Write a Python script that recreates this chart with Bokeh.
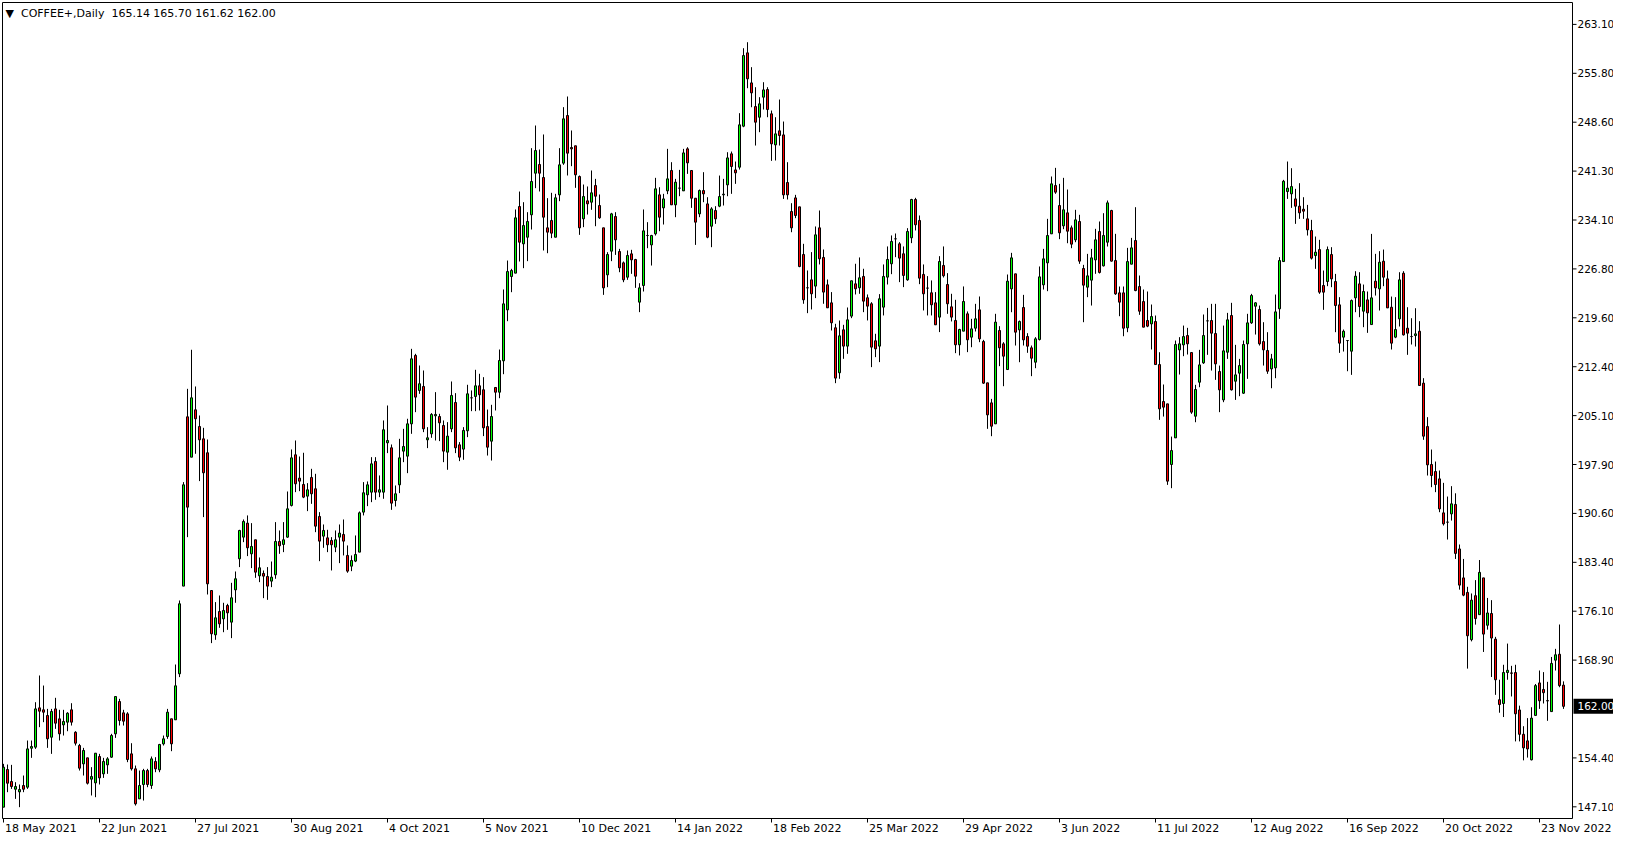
import numpy as np
from bokeh.plotting import figure
from bokeh.models import Range1d, ColumnDataSource
from bokeh.core.properties import value
from bokeh.embed import file_html
from bokeh.resources import INLINE

symbol = "COFFEE+,Daily"

opens = [
    147.05, 152.63, 150.85, 149.71, 149.32, 150.26, 150.01, 155.79, 155.94, 161.77,
    161.48, 160.64, 157.42, 161.62, 160.14, 159.25, 159.65, 161.48, 158.16, 156.19,
    153.47, 154.36, 151.20, 150.65, 154.56, 151.99, 153.32, 154.46, 157.92, 162.71,
    161.03, 160.88, 154.95, 152.73, 148.28, 150.41, 152.48, 150.26, 153.82, 152.58,
    156.43, 157.52, 160.15, 160.00, 166.82, 179.82, 204.92, 198.94, 205.96, 203.49,
    201.66, 199.59, 179.17, 172.60, 176.06, 174.97, 176.95, 174.48, 179.27, 183.87,
    187.08, 189.16, 184.61, 186.69, 181.35, 181.70, 181.25, 180.56, 181.50, 186.44,
    186.00, 187.08, 191.78, 199.29, 195.83, 194.89, 193.16, 195.93, 194.25, 190.15,
    187.23, 186.98, 186.59, 185.60, 187.08, 187.48, 184.37, 182.78, 183.53, 184.86,
    190.79, 193.36, 193.75, 198.30, 193.75, 193.75, 201.07, 200.33, 192.52, 194.84,
    199.83, 199.09, 203.88, 214.02, 208.83, 209.42, 201.51, 202.40, 205.07, 204.97,
    203.64, 199.68, 203.14, 207.05, 200.77, 200.13, 202.85, 207.74, 207.94, 209.52,
    208.93, 203.48, 201.31, 209.27, 208.57, 213.22, 220.78, 225.72, 226.22, 236.10,
    230.57, 231.55, 234.87, 241.04, 242.33, 240.40, 232.94, 234.03, 231.55, 237.83,
    242.53, 249.59, 244.85, 245.10, 240.55, 234.27, 236.94, 236.74, 239.21, 236.25,
    232.94, 225.97, 229.48, 234.62, 229.43, 227.75, 225.62, 229.08, 228.24, 221.92,
    224.39, 231.80, 230.41, 232.05, 237.83, 235.90, 238.42, 241.44, 236.35, 238.82,
    238.42, 244.65, 241.44, 237.33, 235.01, 238.47, 236.49, 233.18, 235.51, 236.15,
    237.83, 239.31, 243.91, 241.53, 241.93, 248.01, 258.88, 254.43, 250.92, 249.34,
    252.31, 253.44, 249.84, 245.24, 247.32, 246.72, 239.66, 235.36, 237.38, 236.05,
    228.99, 224.05, 225.23, 224.30, 232.94, 228.55, 224.49, 221.82, 218.12, 211.45,
    217.82, 215.40, 219.85, 224.64, 224.05, 225.73, 222.57, 221.68, 216.19, 215.40,
    221.18, 225.63, 227.61, 231.31, 230.57, 229.09, 225.23, 231.46, 237.14, 234.03,
    226.03, 224.00, 223.31, 221.82, 219.70, 227.36, 224.54, 221.23, 219.21, 215.60,
    217.62, 220.19, 216.73, 218.06, 220.78, 216.09, 209.96, 206.99, 203.88, 217.72,
    215.74, 211.93, 223.89, 226.12, 217.81, 221.13, 216.83, 215.15, 213.02, 216.38,
    224.49, 227.75, 232.05, 239.21, 236.25, 233.23, 235.16, 232.94, 231.16, 233.88,
    226.91, 224.14, 225.18, 228.19, 232.39, 227.30, 230.81, 235.51, 228.09, 223.30,
    223.30, 218.11, 227.55, 231.06, 224.24, 222.01, 219.20, 218.70, 219.05, 212.67,
    207.19, 206.84, 197.85, 201.80, 214.85, 215.59, 216.97, 214.45, 205.01, 210.05,
    212.92, 219.15, 219.20, 217.27, 211.64, 207.43, 214.50, 219.94, 210.20, 211.39,
    208.42, 215.74, 218.85, 221.32, 220.83, 216.08, 214.75, 212.03, 212.18, 220.93,
    227.94, 238.32, 237.98, 237.23, 236.15, 235.70, 234.27, 232.54, 228.83, 229.72,
    224.39, 224.98, 228.98, 224.98, 221.52, 216.73, 216.23, 214.65, 222.56, 224.63,
    220.58, 222.26, 218.60, 225.03, 223.89, 227.99, 225.37, 221.17, 216.73, 219.44,
    226.21, 218.06, 216.82, 216.97, 217.61, 209.91, 203.48, 197.85, 196.81, 195.72,
    190.68, 189.30, 190.53, 191.93, 185.33, 181.04, 178.89, 171.88, 178.40, 175.59,
    181.04, 174.02, 175.76, 171.96, 162.98, 162.42, 167.01, 166.95, 167.01, 161.46,
    157.85, 156.88, 154.07, 160.65, 165.47, 164.50, 162.85, 161.22, 168.84, 169.72,
    165.14,
]

highs = [
    153.47, 153.37, 153.32, 150.75, 150.41, 151.74, 156.93, 156.93, 162.61, 166.57,
    165.08, 161.62, 161.62, 163.26, 161.48, 161.48, 161.13, 162.46, 158.31, 156.43,
    155.84, 154.36, 152.98, 155.05, 154.95, 154.36, 154.46, 157.92, 163.45, 163.11,
    161.48, 161.13, 156.53, 153.22, 152.48, 152.73, 152.73, 154.56, 154.46, 156.43,
    157.67, 161.62, 160.15, 168.20, 177.69, 195.24, 209.07, 214.86, 209.42, 205.12,
    203.29, 201.56, 179.17, 177.45, 178.43, 177.35, 177.20, 180.31, 181.99, 188.17,
    189.70, 190.30, 189.16, 186.69, 184.07, 182.14, 182.64, 183.47, 189.31, 188.07,
    189.31, 193.85, 200.08, 201.41, 199.04, 199.59, 195.09, 197.21, 196.47, 190.79,
    188.96, 188.17, 187.08, 188.07, 188.96, 189.70, 185.85, 184.37, 187.33, 190.89,
    195.24, 195.34, 198.94, 198.94, 196.23, 204.38, 206.60, 200.82, 194.74, 201.66,
    203.14, 204.63, 215.00, 214.26, 212.53, 211.79, 203.39, 205.47, 208.58, 205.37,
    204.38, 204.13, 210.16, 208.43, 201.17, 203.39, 209.67, 208.83, 211.89, 211.30,
    210.80, 206.00, 206.70, 209.27, 214.90, 223.80, 228.09, 226.86, 235.66, 238.32,
    236.74, 235.26, 244.75, 248.11, 244.55, 246.78, 237.34, 238.13, 237.98, 244.75,
    250.83, 252.41, 247.37, 245.10, 240.70, 239.36, 239.07, 241.44, 240.20, 237.88,
    232.94, 229.33, 235.16, 235.26, 229.82, 227.95, 229.58, 229.68, 228.34, 224.73,
    235.66, 233.78, 231.90, 240.35, 238.96, 237.98, 244.65, 242.67, 240.20, 241.53,
    244.65, 244.89, 241.44, 237.33, 238.62, 241.19, 237.48, 236.00, 236.15, 240.69,
    240.20, 244.15, 244.25, 242.77, 249.94, 259.57, 260.46, 256.76, 253.79, 252.31,
    254.53, 253.79, 250.33, 249.34, 251.96, 248.70, 242.67, 236.59, 237.83, 236.05,
    230.57, 226.62, 229.34, 233.14, 235.51, 229.73, 225.28, 223.41, 218.71, 219.20,
    218.56, 221.13, 225.09, 227.61, 228.55, 226.87, 223.06, 221.92, 217.23, 223.11,
    227.51, 230.18, 231.81, 232.10, 230.82, 230.18, 232.89, 237.24, 237.39, 234.77,
    227.51, 225.78, 225.14, 223.41, 228.74, 230.18, 226.22, 223.16, 222.27, 217.97,
    224.25, 220.54, 219.45, 221.67, 222.76, 216.33, 209.96, 207.58, 220.19, 218.36,
    215.99, 226.02, 229.23, 226.12, 219.20, 223.00, 217.32, 215.49, 216.73, 227.21,
    229.82, 234.27, 240.55, 241.83, 239.46, 240.35, 238.62, 233.28, 235.61, 234.87,
    227.45, 229.08, 229.82, 232.79, 233.88, 235.11, 236.99, 235.61, 232.05, 224.24,
    224.24, 229.97, 231.45, 236.00, 225.87, 223.79, 223.50, 221.57, 219.94, 214.50,
    209.71, 206.84, 201.99, 216.23, 216.73, 218.45, 218.11, 214.45, 209.66, 214.85,
    220.09, 221.07, 221.67, 221.67, 212.52, 218.45, 220.33, 221.82, 215.59, 213.51,
    216.23, 220.19, 223.15, 221.91, 221.42, 218.95, 217.47, 214.25, 223.05, 228.59,
    240.05, 242.77, 241.78, 238.72, 239.56, 237.48, 236.34, 234.12, 231.65, 231.16,
    226.61, 230.17, 230.07, 226.11, 222.66, 217.86, 216.23, 222.31, 226.51, 226.36,
    224.53, 223.50, 232.04, 229.08, 229.48, 229.72, 226.61, 222.75, 222.66, 226.36,
    226.51, 221.17, 219.54, 221.02, 219.10, 210.65, 204.87, 200.07, 198.29, 196.96,
    195.13, 193.10, 194.64, 193.58, 185.99, 183.85, 179.72, 178.73, 180.71, 183.69,
    181.04, 178.07, 177.74, 172.30, 165.94, 168.16, 171.30, 168.00, 168.16, 162.10,
    159.05, 160.25, 161.86, 165.31, 167.31, 167.07, 165.63, 169.32, 170.52, 174.13,
    165.70,
]

lows = [
    147.05, 149.27, 149.76, 148.28, 147.05, 149.27, 149.76, 154.36, 155.69, 158.91,
    159.65, 155.84, 154.95, 158.66, 156.93, 157.67, 158.31, 159.15, 156.19, 152.48,
    151.74, 150.41, 148.78, 148.53, 150.41, 151.39, 151.99, 154.36, 157.32, 159.15,
    159.15, 153.72, 152.48, 147.29, 148.28, 148.03, 150.01, 149.76, 152.23, 152.23,
    156.19, 157.18, 155.35, 160.00, 166.33, 179.82, 187.08, 198.94, 199.44, 195.39,
    190.05, 178.58, 171.37, 171.86, 173.64, 172.99, 173.34, 172.11, 177.35, 182.64,
    186.34, 184.27, 182.49, 181.05, 180.41, 178.04, 177.79, 179.67, 180.91, 184.61,
    184.86, 186.98, 191.63, 193.75, 193.90, 192.86, 190.94, 192.02, 187.82, 183.52,
    185.50, 184.86, 182.14, 184.86, 183.23, 184.37, 181.80, 182.04, 183.38, 184.86,
    190.30, 191.68, 192.27, 192.62, 193.01, 192.77, 199.54, 191.13, 191.63, 193.61,
    198.20, 196.57, 202.40, 205.61, 208.33, 202.65, 200.28, 201.81, 201.41, 201.32,
    198.20, 197.07, 202.65, 199.54, 198.35, 198.55, 201.91, 205.76, 205.76, 205.86,
    202.06, 199.18, 198.44, 205.86, 207.68, 211.24, 219.10, 223.40, 226.22, 227.95,
    226.96, 228.00, 232.69, 238.82, 238.33, 229.58, 229.18, 231.41, 231.55, 236.89,
    242.28, 240.70, 242.08, 238.87, 231.90, 233.04, 234.91, 235.61, 233.18, 234.27,
    223.00, 224.14, 228.00, 228.93, 226.36, 224.88, 225.23, 226.12, 224.04, 220.44,
    223.50, 229.92, 227.35, 231.80, 232.44, 233.43, 237.93, 236.35, 234.52, 237.63,
    238.42, 240.94, 235.90, 230.41, 234.52, 236.74, 231.40, 230.07, 233.53, 236.00,
    236.25, 237.63, 237.98, 239.46, 241.58, 247.86, 253.64, 250.82, 245.14, 247.12,
    250.48, 249.34, 242.87, 242.92, 245.14, 237.23, 237.14, 232.29, 234.37, 227.10,
    221.68, 220.29, 220.84, 222.52, 227.51, 221.68, 221.08, 217.72, 209.91, 210.56,
    213.52, 214.26, 219.55, 223.06, 223.16, 220.44, 219.21, 212.29, 213.77, 213.03,
    219.95, 224.54, 226.07, 228.59, 224.89, 224.15, 225.09, 230.67, 232.55, 224.59,
    220.69, 219.95, 219.95, 218.56, 217.48, 225.58, 220.19, 219.06, 214.36, 214.02,
    217.62, 214.51, 215.24, 217.57, 215.99, 209.81, 203.14, 202.05, 203.88, 212.43,
    209.46, 211.93, 220.43, 215.49, 213.02, 215.49, 214.41, 210.95, 212.13, 216.24,
    223.79, 223.55, 232.05, 237.98, 231.26, 232.74, 230.66, 229.92, 230.81, 227.60,
    218.95, 222.66, 221.42, 226.12, 226.17, 227.21, 230.17, 227.95, 223.00, 219.84,
    216.87, 217.47, 227.55, 223.54, 220.04, 218.21, 218.21, 214.90, 212.62, 204.47,
    204.96, 194.83, 194.34, 201.80, 211.19, 213.91, 214.16, 205.36, 204.12, 209.31,
    212.77, 214.11, 211.78, 210.40, 205.61, 207.09, 213.51, 208.82, 207.43, 207.98,
    208.32, 210.55, 218.70, 217.12, 215.49, 212.52, 211.29, 209.16, 210.65, 219.44,
    227.94, 237.23, 235.90, 233.53, 234.27, 234.27, 231.80, 228.24, 226.86, 223.15,
    220.78, 224.29, 224.14, 217.47, 214.40, 214.60, 211.68, 211.14, 220.43, 219.69,
    218.21, 217.37, 218.60, 222.90, 220.68, 224.29, 221.07, 214.90, 216.58, 218.31,
    216.97, 214.11, 215.64, 215.34, 209.56, 201.51, 196.22, 194.49, 193.75, 190.78,
    188.80, 186.73, 189.54, 183.85, 179.30, 178.32, 167.59, 171.63, 174.11, 175.59,
    170.06, 173.37, 166.35, 163.70, 161.05, 160.41, 165.94, 163.46, 156.80, 156.80,
    153.99, 154.40, 153.99, 160.65, 161.62, 162.42, 159.85, 161.22, 167.31, 164.83,
    161.62,
]

closes = [
    152.98, 150.60, 150.11, 150.11, 149.66, 149.71, 155.69, 156.04, 161.62, 161.28,
    161.13, 157.18, 161.23, 159.50, 157.92, 159.75, 160.98, 159.65, 156.53, 152.83,
    155.45, 150.60, 151.59, 155.05, 151.39, 153.82, 154.21, 157.67, 163.45, 159.89,
    159.80, 154.11, 152.73, 147.54, 150.26, 152.48, 150.41, 154.21, 152.73, 156.34,
    157.18, 161.13, 156.44, 165.04, 177.20, 194.84, 191.53, 207.74, 204.63, 201.51,
    196.62, 180.16, 172.75, 175.12, 174.23, 176.21, 175.86, 178.09, 180.91, 188.07,
    189.41, 185.50, 185.70, 181.89, 182.54, 181.30, 179.82, 181.15, 186.44, 185.80,
    186.69, 191.28, 198.84, 194.99, 195.38, 193.01, 194.10, 193.51, 188.71, 186.49,
    188.07, 185.95, 185.95, 186.69, 187.68, 186.49, 182.04, 183.62, 184.51, 190.69,
    193.66, 194.84, 197.95, 193.75, 194.10, 203.00, 201.41, 192.12, 193.51, 198.84,
    200.52, 203.88, 213.52, 207.84, 209.82, 203.14, 201.81, 205.27, 205.27, 204.03,
    199.83, 202.06, 208.09, 200.33, 198.94, 202.90, 208.33, 207.74, 209.52, 208.19,
    203.29, 200.42, 204.97, 208.57, 213.27, 221.67, 226.46, 226.61, 234.42, 230.81,
    233.28, 233.88, 239.81, 244.40, 241.04, 234.52, 232.30, 232.15, 237.39, 242.28,
    249.10, 244.01, 244.65, 240.80, 232.94, 237.58, 236.50, 238.13, 237.63, 234.42,
    224.04, 228.98, 235.01, 231.16, 227.01, 225.23, 228.84, 228.19, 225.77, 224.04,
    232.49, 231.80, 231.80, 238.72, 234.52, 237.23, 240.20, 236.35, 239.71, 238.82,
    244.05, 242.57, 237.33, 233.78, 238.47, 237.98, 231.55, 235.75, 234.27, 237.58,
    237.93, 243.31, 242.03, 241.09, 248.21, 258.48, 255.03, 252.95, 248.60, 251.32,
    253.39, 250.48, 245.39, 246.87, 246.62, 237.83, 237.83, 232.94, 234.77, 227.20,
    222.27, 224.05, 223.16, 231.90, 228.35, 223.41, 221.08, 218.86, 210.66, 216.93,
    215.40, 219.30, 225.09, 223.90, 225.53, 222.07, 221.33, 215.25, 215.00, 222.42,
    225.73, 228.25, 230.92, 231.31, 228.45, 225.88, 232.40, 237.14, 233.39, 225.48,
    223.16, 224.00, 221.53, 218.56, 227.95, 225.83, 221.68, 219.70, 215.60, 217.87,
    222.02, 216.34, 217.96, 219.45, 216.48, 209.91, 205.21, 203.53, 218.96, 215.15,
    213.91, 225.03, 228.49, 217.47, 219.05, 216.33, 215.39, 213.61, 216.48, 225.67,
    228.34, 231.80, 239.46, 238.23, 232.20, 235.61, 232.44, 230.52, 234.12, 228.00,
    224.44, 225.82, 228.49, 231.16, 226.32, 231.80, 236.64, 228.00, 223.15, 221.92,
    218.06, 227.94, 229.97, 223.64, 220.58, 218.21, 218.36, 219.79, 212.67, 206.10,
    206.35, 195.38, 199.92, 215.64, 215.74, 216.82, 215.74, 205.61, 208.97, 212.62,
    216.97, 219.15, 217.32, 212.77, 208.92, 214.70, 219.30, 208.92, 211.14, 212.52,
    215.64, 218.85, 222.90, 221.82, 215.74, 214.85, 211.68, 213.51, 220.48, 228.09,
    239.85, 238.82, 239.06, 236.15, 235.16, 235.41, 232.64, 228.44, 229.33, 223.40,
    223.40, 229.72, 225.37, 221.42, 215.84, 217.61, 216.23, 222.16, 225.77, 221.27,
    223.50, 220.33, 222.56, 224.04, 227.84, 225.62, 221.07, 215.84, 217.86, 225.23,
    217.07, 217.32, 216.82, 217.22, 209.56, 202.05, 197.80, 196.22, 194.88, 191.27,
    189.05, 189.30, 192.02, 184.67, 179.97, 178.48, 172.46, 177.74, 175.01, 181.86,
    172.71, 175.84, 172.12, 165.94, 162.26, 167.01, 167.34, 166.90, 160.89, 157.85,
    155.84, 155.68, 160.25, 165.07, 162.82, 164.02, 162.80, 168.36, 169.64, 165.07,
    162.00,
]

date_tick_bars = [0, 24, 48, 72, 96, 120, 144, 168, 192, 216, 240, 264, 288, 312, 336, 360, 384]
date_labels = ["18 May 2021", "22 Jun 2021", "27 Jul 2021", "30 Aug 2021", "4 Oct 2021",
               "5 Nov 2021", "10 Dec 2021", "14 Jan 2022", "18 Feb 2022", "25 Mar 2022",
               "29 Apr 2022", "3 Jun 2022", "11 Jul 2022", "12 Aug 2022", "16 Sep 2022",
               "20 Oct 2022", "23 Nov 2022"]

price_ticks = [263.1, 255.85, 248.6, 241.35, 234.1, 226.85, 219.6, 212.35, 205.1,
               197.85, 190.6, 183.35, 176.1, 168.85, 154.35, 147.1]
price_labels = ["263.10", "255.80", "248.60", "241.30", "234.10", "226.80", "219.60",
                "212.40", "205.10", "197.90", "190.60", "183.40", "176.10", "168.90",
                "154.40", "147.10"]

BULL = "#00ff00"
BEAR = "#ff0000"
FONT = "DejaVu Sans"

n = len(opens)
idx = np.arange(n)
o = np.array(opens); c = np.array(closes)

# ---- layout (pixels) ----
W, H = 1613, 834
PX_PER_BAR = 4.0
PX_PER_UNIT = 6.745
X_START = -0.75                      # bar i centred at pixel 3 + 4*i
X_END = X_START + W / PX_PER_BAR
Y_END = 263.1 + 23.9 / PX_PER_UNIT   # 263.10 tick at pixel row ~24
Y_START = Y_END - H / PX_PER_UNIT

def xpx(px):
    return X_START + px / PX_PER_BAR

def ypx(py):
    return Y_END - py / PX_PER_UNIT

BOX_L, BOX_T, BOX_R, BOX_B = 2, 2, 1572, 818

p = figure(width=W, height=H, x_range=Range1d(X_START, X_END), y_range=Range1d(Y_START, Y_END),
           output_backend="svg", toolbar_location=None, x_axis_location=None,
           y_axis_location=None, min_border=0)
p.xgrid.visible = False
p.ygrid.visible = False
p.background_fill_color = "white"
p.border_fill_color = "white"
p.outline_line_color = None

# chart box
p.segment(x0=[xpx(BOX_L), xpx(BOX_L), xpx(BOX_R), xpx(BOX_L)],
          y0=[ypx(BOX_T), ypx(BOX_T), ypx(BOX_T), ypx(BOX_B)],
          x1=[xpx(BOX_L), xpx(BOX_R), xpx(BOX_R), xpx(BOX_R)],
          y1=[ypx(BOX_B), ypx(BOX_T), ypx(BOX_B), ypx(BOX_B)],
          line_color="black", line_width=1)

# candles
src = ColumnDataSource(dict(
    x=idx, h=np.array(highs), l=np.array(lows),
    top=np.maximum(o, c), bottom=np.minimum(o, c),
    color=[BULL if cc >= oo else BEAR for oo, cc in zip(opens, closes)],
))
p.segment(x0="x", y0="l", x1="x", y1="h", source=src, line_color="black", line_width=1)
p.vbar(x="x", width=0.5, top="top", bottom="bottom", source=src,
       fill_color="color", line_color="black", line_width=1)

# price scale on the right
nt = len(price_ticks)
p.segment(x0=[xpx(BOX_R)] * nt, y0=price_ticks, x1=[xpx(BOX_R + 4)] * nt, y1=price_ticks,
          line_color="black", line_width=1)
p.text(x=[xpx(BOX_R + 5)] * nt, y=price_ticks, text=price_labels,
       text_font=value(FONT), text_font_size=value("10.5px"), text_color="black",
       text_baseline="middle", text_align="left")

# last price marker
last = closes[-1]
p.quad(left=[xpx(BOX_R + 1)], right=[X_END], top=[last + 7.5 / PX_PER_UNIT],
       bottom=[last - 7.5 / PX_PER_UNIT], fill_color="black", line_color=None)
p.text(x=[xpx(BOX_R + 5)], y=[last], text=["%.2f" % last],
       text_font=value(FONT), text_font_size=value("10.5px"), text_color="white",
       text_baseline="middle", text_align="left")

# time scale at the bottom (labels start at their tick, as in the terminal)
nd = len(date_tick_bars)
p.segment(x0=date_tick_bars, y0=[ypx(BOX_B)] * nd, x1=date_tick_bars, y1=[ypx(BOX_B + 4)] * nd,
          line_color="black", line_width=1)
p.text(x=[b + 1.5 / PX_PER_BAR for b in date_tick_bars], y=[ypx(BOX_B + 10)] * nd,
       text=date_labels, text_font=value(FONT), text_font_size=value("11px"),
       text_color="black", text_baseline="middle", text_align="left")

# header
header_text = "\u25bc\u00a0 %s\u00a0 %.2f %.2f %.2f %.2f" % (symbol, opens[-1], highs[-1], lows[-1], closes[-1])
p.text(x=[xpx(5)], y=[ypx(13)], text=[header_text], text_font=value(FONT),
       text_font_size=value("11px"), text_color="black",
       text_baseline="middle", text_align="left")

open("out.html", "w").write(file_html(p, INLINE))
